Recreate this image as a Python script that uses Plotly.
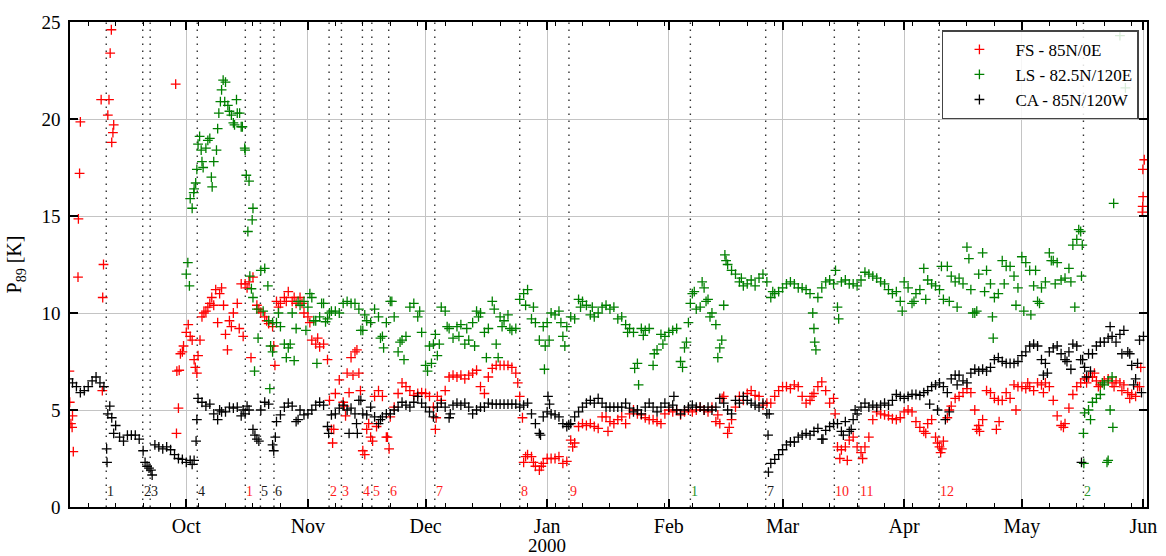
import numpy as np
import pandas as pd
import plotly.graph_objects as go

# Day 0 of every daily list is 1 September 1999
START = pd.Timestamp("1999-09-01")

# --- CA - 85N/120W, one value per day (day 0 .. 274) ---
ca_daily = [
    6.6, 6.4, 6.2, 5.9, 6.0, 6.2, 6.5, 6.7, 6.4, 6.2,
    4.8, 4.6, 4.2, 3.6, 3.4, 3.7, 3.7, 3.7, 3.5, 2.9,
    2.1, 1.9, 3.2, 3.1, 3.0, 3.1, 2.95, 2.7, 2.5, 2.45,
    2.3, 2.4, 2.4, 5.6, 5.4, 5.2, 5.3, 4.8, 4.5, 4.9,
    4.9, 5.15, 5.1, 5.15, 4.7, 4.8, 5.0, 4.0, 3.5, 5.0,
    5.4, 5.3, 3.2, 4.4, 4.75, 5.15, 5.35, 5.2, 4.4, 5.0,
    4.75, 4.8, 5.0, 5.25, 5.4, 5.25, 4.15, 4.75, 4.8, 5.1,
    5.25, 5.0, 5.1, 4.8, 5.5, 4.8, 4.75, 5.15, 4.65, 4.3,
    4.65, 4.8, 4.8, 5.0, 5.15, 5.4, 5.25, 5.15, 5.4, 5.7,
    5.35, 5.15, 4.9, 4.65, 5.15, 5.35, 5.15, 4.6, 5.25, 5.35,
    5.25, 5.35, 5.15, 4.8, 5.0, 5.15, 5.15, 5.35, 5.3, 5.3,
    5.3, 5.3, 5.3, 5.3, 5.3, 5.15, 5.25, 5.35, 4.8, 4.3,
    3.8, 4.65, 4.9, 4.8, 4.75, 4.65, 4.3, 4.15, 4.3, 4.65,
    4.9, 5.15, 5.35, 5.5, 5.35, 5.6, 5.35, 5.15, 5.15, 5.15,
    5.15, 5.15, 5.35, 5.1, 4.9, 5.0, 4.8, 5.15, 5.35, 5.15,
    4.9, 5.15, 5.35, 5.15, 5.25, 5.0, 4.8, 5.0, 5.15, 5.25,
    5.15, 5.15, 5.0, 5.15, 5.0, 5.15, 5.6, 5.35, 5.0, 4.8,
    5.5, 5.35, 5.7, 5.5, 5.35, 5.25, 5.15, 5.35, 4.8, 2.25,
    2.45, 2.7, 2.95, 3.2, 3.35, 3.35, 3.6, 3.7, 3.8, 3.7,
    3.9, 4.05, 3.5, 3.95, 4.15, 4.3, 4.3, 3.9, 4.4, 3.9,
    4.5, 4.8, 5.15, 5.35, 5.15, 5.25, 5.15, 5.25, 5.35, 5.25,
    5.5, 5.8, 5.7, 5.6, 5.7, 5.8, 5.8, 5.75, 5.9, 6.0,
    6.2, 6.3, 6.4, 6.2, 5.9, 6.6, 6.8, 6.8, 6.5, 6.4,
    6.9, 7.1, 7.0, 7.1, 7.0, 7.2, 7.6, 7.7, 7.5, 7.4,
    7.4, 7.4, 7.5, 7.8, 8.0, 8.3, 8.4, 8.3, 7.6, 7.4,
    8.0, 8.2, 8.3, 7.9, 7.6, 8.0, 8.4, 8.3, 7.6, 7.2,
    7.9, 7.9, 8.3, 8.5, 8.5, 8.7, 8.8, 8.5, 8.9, 9.1,
    8.0, 7.3, 6.6, 8.6, 8.8,
]

# --- FS - 85N/0E, daily values from day 30 (1 Oct) to day 273 ---
fs_daily_from_oct = [
    9.0, 8.8, 7.6, 7.8, 9.8, 10.1, 10.5, 10.4, 9.5, 11.3,
    8.9, 9.6, 10.0, 10.5, 11.5, 11.5, 11.6, 11.85, 10.4, 10.05,
    9.8, 9.45, 9.3, 10.6, 10.5, 10.8, 11.1, 10.6, 10.5, 10.8,
    10.0, 9.8, 8.6, 8.4, 8.25, 8.4, 7.6, 4.0, 5.85, 6.55,
    5.4, 6.9, 7.7, 8.0, 6.9, 2.9, 4.0, 3.6, 5.7, 6.0,
    5.7, 3.6, 4.65, 5.15, 5.85, 6.4, 6.2, 6.0, 5.75, 5.85,
    5.9, 5.85, 5.7, 5.15, 5.7, 5.5, 6.0, 6.7, 6.8, 6.7,
    6.8, 6.6, 6.8, 6.9, 7.05, 6.2, 5.85, 6.7, 7.15, 7.3,
    7.3, 7.3, 7.3, 7.2, 6.9, 5.7, 2.3, 2.7, 2.6, 2.1,
    1.9, 2.25, 2.5, 2.5, 2.5, 2.6, 2.25, 2.35, 3.45, 3.3,
    4.15, 4.3, 4.2, 4.3, 4.15, 4.05, 4.65, 4.65, 4.4, 4.3,
    4.5, 4.65, 4.3, 4.8, 5.0, 4.8, 4.75, 4.6, 4.5, 4.5,
    4.4, 4.3, 4.8, 5.0, 4.9, 5.0, 4.75, 4.9, 5.0, 4.9,
    5.0, 5.15, 5.0, 4.9, 5.15, 4.4, 4.3, 5.7, 3.8, 4.5,
    5.15, 5.7, 5.5, 5.85, 6.0, 5.75, 5.7, 5.25, 5.35, 5.35,
    5.7, 6.0, 6.2, 6.2, 6.1, 6.3, 6.2, 5.7, 5.35, 5.5,
    5.85, 6.2, 6.45, 6.0, 5.35, 5.6, 3.1, 2.95, 3.1, 3.45,
    3.6, 3.1, 2.8, 3.1, 3.6, 4.5, 4.9, 4.8, 4.75, 4.7,
    4.55, 4.5, 4.6, 4.9, 5.0, 4.9, 4.4, 4.1, 3.9, 4.3,
    4.5, 3.6, 3.1, 3.4, 4.6, 5.2, 5.6, 5.7, 5.9, 6.1,
    5.9, 5.0, 4.2, 4.5, 6.0, 5.9, 5.6, 5.5, 5.5, 5.9,
    5.6, 6.3, 6.2, 6.2, 6.1, 6.2, 6.0, 6.4, 6.3, 6.4,
    6.2, 5.5, 4.7, 4.2, 4.3, 5.1, 5.8, 6.2, 6.4, 6.6,
    6.7, 6.7, 6.5, 6.3, 6.5, 6.6, 6.4, 6.5, 6.4, 6.3,
    5.9, 5.8, 5.7, 6.2,
]

# --- LS - 82.5N/120E, daily values from day 30 (1 Oct) to day 266 ---
ls_daily_from_oct = [
    12.0, 15.9, 16.4, 18.7, 17.8, 18.5, 19.0, 17.8, 19.5, 21.5,
    21.9, 20.4, 19.8, 20.3, 19.6, 18.4, 16.8, 15.4, 10.2, 12.2,
    12.3, 9.6, 9.5, 9.5, 9.3, 8.4, 8.2, 10.0, 9.2, 10.4,
    10.6, 10.3, 10.8, 9.6, 9.8, 10.5, 9.7, 10.1, 10.1, 10.0,
    10.5, 10.6, 10.5, 10.5, 10.2, 9.1, 9.6, 9.5, 10.2, 9.8,
    8.8, 9.5, 10.6, 9.8, 8.0, 8.6, 8.8, 10.3, 10.5, 9.8,
    9.0, 7.3, 8.3, 8.4, 7.8, 10.3, 10.1, 9.2, 8.7, 9.3,
    9.4, 8.4, 8.6, 9.5, 10.1, 10.0, 9.0, 9.2, 10.6, 8.4,
    9.8, 9.6, 9.9, 9.1, 9.2, 10.7, 11.0, 11.2, 9.7, 9.5,
    8.6, 9.3, 9.5, 10.0, 9.9, 10.1, 8.8, 9.3, 9.8, 9.7,
    10.7, 10.6, 10.4, 9.9, 9.8, 10.0, 10.3, 10.4, 10.2, 10.3,
    9.7, 9.8, 9.4, 9.2, 9.0, 7.4, 9.2, 9.1, 9.2, 7.3,
    8.1, 8.9, 8.8, 9.0, 9.1, 9.2, 7.5, 8.2, 9.5, 11.0,
    10.2, 10.3, 11.3, 10.7, 10.0, 9.4, 8.2, 10.4, 12.5, 12.2,
    12.0, 11.6, 11.4, 11.5, 11.7, 11.4, 11.8, 12.0, 11.6, 10.8,
    11.0, 11.1, 11.3, 11.5, 11.6, 11.5, 11.3, 11.3, 11.2, 11.0,
    9.2, 10.8, 11.3, 11.6, 11.7, 11.5, 10.3, 11.6, 11.7, 11.5,
    11.5, 11.4, 11.7, 12.1, 12.0, 11.9, 11.8, 11.6, 11.5, 11.2,
    11.0, 11.1, 10.6, 11.6, 11.3, 10.5, 11.0, 11.2, 12.3, 11.7,
    11.5, 11.4, 11.2, 10.7, 12.4, 11.9, 11.6, 11.8, 11.5, 13.4,
    11.2, 10.0, 12.0, 13.1, 12.2, 11.5, 10.8, 11.0, 12.7, 12.4,
    12.4, 11.9, 11.3, 12.9, 12.6, 12.2, 11.4, 10.6, 11.3, 11.6,
    13.1, 12.7, 12.6, 11.7, 11.8, 12.3, 13.5, 13.8, 14.2, 4.85,
    5.0, 5.4, 5.6, 5.8, 6.3, 6.5, 6.7,
]

# --- extra observations within a day (day offset, value) ---
fs_extra_day = [
    0.2, 0.3, 0.6, 0.9, 1.2, 1.0, 2.4, 2.5, 2.8, 3.0, 8.3, 8.6, 8.7, 8.9,
    10.0, 10.3, 10.6, 10.9, 11.0, 11.3, 11.5, 27.3, 27.5, 27.6, 28.0, 28.2,
    28.5, 29.0, 29.3,
    30.5, 31.5, 32.3, 32.7, 33.5, 34.5, 35.5, 36.5, 37.5, 38.5, 39.5, 40.5,
    41.5, 43.5, 44.5, 45.5, 46.5, 48.5, 50.5, 52.3, 52.6, 53.5, 55.5, 57.5,
    59.5, 61.5, 63.5, 66.5, 67.3, 67.6, 70.3, 70.6, 71.5, 72.5, 73.5, 74.4,
    75.5, 76.5, 77.5, 78.5, 81.3, 81.7, 93.5, 93.7, 114.5, 115.7, 116.5,
    118.5, 120.5, 128.5, 137.5, 165.5, 166.6, 168.4, 189.5, 195.4, 196.6,
    198.5, 202.4, 218.5, 221.5, 222.3, 222.6, 224.5, 231.5, 232.2, 236.5,
    237.2, 241.5, 244.5, 248.5, 253.6, 259.5, 261.5, 262.5, 266.5, 268.5,
    270.5, 272.5, 273.3, 273.7, 273.8, 273.9, 273.85, 274.2,
]
fs_extra_val = [
    7.0, 5.4, 4.3, 4.1, 2.85, 4.7, 11.85, 14.85, 17.2, 19.85, 21.0, 6.0, 10.8, 12.5,
    20.2, 21.0, 23.4, 24.6, 18.8, 19.3, 19.7, 21.8, 3.8, 7.0, 5.1, 7.05,
    7.9, 8.0, 8.3,
    9.4, 8.6, 7.2, 6.9, 8.6, 10.0, 10.3, 10.8, 11.2, 11.0, 10.4, 8.1,
    9.3, 9.2, 8.8, 11.3, 7.7, 10.2, 9.6, 8.3, 7.3, 10.3, 10.6, 10.8,
    10.5, 9.5, 8.7, 5.5, 3.3, 4.0, 5.2, 4.7, 5.9, 6.8, 8.1, 6.0,
    2.7, 4.3, 3.4, 4.15, 3.6, 3.0, 4.0, 4.6, 6.4, 4.6, 2.6,
    2.3, 2.1, 3.1, 3.9, 4.75, 5.6, 4.1, 5.7, 4.8, 2.5,
    2.4, 2.5, 3.8, 3.3, 2.8, 3.0, 5.0, 4.0, 3.9, 4.0,
    4.4, 5.0, 6.4, 5.9, 4.1, 6.4, 6.9, 6.2, 6.2, 6.0,
    5.6, 6.2, 7.2, 15.2, 15.5, 16.0, 17.4, 17.9,
]

ls_extra_day = [
    30.4, 30.8, 31.5, 31.9, 32.4, 32.7, 33.4, 33.8, 34.3, 35.5, 36.4, 36.6,
    37.7, 38.3, 38.7, 39.4, 39.8, 40.6, 41.5, 42.3, 42.8, 43.6, 44.3, 44.9,
    45.3, 45.7, 46.2, 46.6, 46.8, 47.0, 47.4, 48.3, 49.6, 50.8, 51.3, 51.5,
    52.0, 53.5, 55.5, 56.5, 57.5, 58.5, 60.5, 61.5, 62.5, 63.3, 64.5, 65.5,
    66.5, 74.5, 75.5, 79.5, 80.3, 82.4, 84.5, 85.5, 89.5, 91.5, 92.5, 93.5,
    94.5, 96.5, 99.5, 101.5, 103.5, 104.5, 106.5, 108.5, 109.5, 110.5,
    112.5, 116.5, 118.5, 121.3, 121.5, 122.5, 125.5, 126.5, 130.5, 133.5,
    142.5, 144.3, 145.3, 146.5, 149.3, 151.5, 156.5, 157.5, 158.5, 159.5,
    161.5, 162.5, 163.5, 165.5, 166.5, 167.3, 167.6, 171.5, 179.5, 189.7,
    190.2, 190.5, 195.5, 196.3, 212.5, 215.5, 218.5, 222.5, 224.5, 226.5,
    229.5, 230.5, 231.5, 233.5, 235.5, 235.7, 238.5, 241.5, 243.5, 245.3,
    246.5, 247.5, 250.5, 251.5, 255.5, 256.5, 257.5, 258.2, 258.4, 258.7,
    258.8, 260.5, 263.5, 264.7, 265.0, 265.5, 266.2, 266.4, 268.0, 269.4,
]
ls_extra_val = [
    12.6, 11.4, 15.4, 16.2, 16.7, 17.4, 19.1, 18.4, 17.5, 18.9, 17.0, 16.5,
    18.4, 20.3, 20.9, 22.0, 20.9, 20.7, 20.2, 19.7, 21.0, 20.3, 19.6, 18.5,
    17.1, 14.2, 11.9, 11.25, 14.8, 10.8, 7.0, 8.7, 10.1, 11.4, 6.1, 8.3,
    8.0, 10.0, 7.7, 8.4, 7.55, 10.6, 9.1, 11.0, 9.6, 7.4, 10.5, 9.55,
    10.0, 9.1, 9.9, 8.7, 8.2, 10.6, 8.5, 7.6, 10.1, 7.0, 7.4, 8.9,
    8.4, 9.3, 8.8, 9.2, 8.3, 9.8, 7.7, 10.2, 7.7, 9.3,
    9.2, 10.4, 10.3, 7.1, 8.3, 8.6, 9.5, 8.3, 10.3, 10.3,
    9.0, 7.15, 6.3, 8.85, 7.9, 8.4, 7.2, 8.5, 10.5, 11.1,
    11.6, 10.6, 9.8, 7.7, 8.6, 13.0, 12.7, 11.8, 11.1, 10.0,
    8.5, 8.1, 12.2, 9.7, 10.1, 10.6, 10.7, 12.4, 10.6, 10.3,
    12.8, 10.0, 10.1, 11.1, 9.8, 8.7, 11.5, 10.4, 10.1, 9.9,
    12.2, 10.5, 12.7, 11.5, 11.6, 10.3, 14.3, 11.9, 13.5, 3.8,
    2.25, 4.5, 6.4, 2.3, 2.4, 5.0, 4.1, 15.65, 24.3, 21.6,
]

ca_extra_day = [
    9.7, 9.8, 10.5, 11.5, 19.5, 20.5, 21.3, 31.5, 32.5, 32.7, 38.5, 44.5,
    45.5, 47.5, 48.5, 52.3, 52.7, 58.5, 66.3, 71.5, 73.4, 73.6, 74.5, 79.5,
    97.3, 120.3, 122.2, 122.6, 127.5, 154.3, 178.3, 178.4, 178.6, 192.3,
    197.5, 199.5, 200.5, 219.5, 221.5, 223.5, 224.5, 226.5, 248.5, 249.5,
    254.5, 255.5, 258.2, 258.5, 259.5, 260.5, 265.5, 268.5, 270.5, 271.5,
    272.5, 273.5,
]
ca_extra_val = [
    3.0, 2.3, 5.2, 3.8, 2.3, 2.0, 1.65, 2.2, 3.4, 4.5, 5.0, 5.0,
    5.2, 3.7, 3.4, 2.9, 3.6, 4.5, 3.8, 3.8, 4.3, 3.8, 5.5, 4.5,
    4.8, 3.7, 5.7, 5.3, 4.25, 5.7, 3.7, 1.8, 4.8, 3.5,
    3.7, 4.0, 5.0, 5.3, 5.0, 4.5, 4.9, 6.3, 6.8, 6.9,
    7.5, 7.1, 2.3, 7.6, 6.7, 7.0, 9.3, 7.9, 7.9, 6.3,
    7.4, 5.9,
]

# --- numbered events: day offset, label, station it belongs to ---
event_day = [9.6, 18.9, 20.8, 32.8, 45.05, 48.9, 52.35, 66.4, 69.55, 74.9,
             77.3, 81.6, 93.35, 115.0, 127.55, 158.5, 177.7, 195.2, 201.45,
             221.85, 258.7]
event_label = ["1", "2", "3", "4", "1", "5", "6", "2", "3", "4",
               "5", "6", "7", "8", "9", "1", "7", "10", "11",
               "12", "2"]
event_station = ["CA", "CA", "CA", "CA", "FS", "CA", "CA", "FS", "FS", "FS",
                 "FS", "FS", "FS", "FS", "FS", "LS", "CA", "FS", "FS",
                 "FS", "LS"]

month_ticks = ["1999-10-01", "1999-11-01", "1999-12-01", "2000-01-01",
               "2000-02-01", "2000-03-01", "2000-04-01", "2000-05-01",
               "2000-06-01"]
month_labels = ["Oct", "Nov", "Dec", "Jan", "Feb", "Mar", "Apr", "May", "Jun"]
year_label = "2000"
year_start = "2000-01-01"

y_ticks = [0, 5, 10, 15, 20, 25]

FONT = "Liberation Serif"
station_color = {"FS": "#ff0000", "LS": "#008000", "CA": "#000000"}
label_color = {"FS": "#ff1a1a", "LS": "#2a962a", "CA": "#1a1a1a"}


def to_dates(days):
    return START + pd.to_timedelta(np.asarray(days, dtype=float), unit="D")


def station_points(daily, first_day, extra_day, extra_val):
    days = [first_day + k for k, v in enumerate(daily) if v is not None]
    vals = [v for v in daily if v is not None]
    days = days + list(extra_day)
    vals = vals + list(extra_val)
    return to_dates(days), vals


fig = go.Figure()

series = [
    ("FS - 85N/0E", "FS", fs_daily_from_oct, 30, fs_extra_day, fs_extra_val),
    ("LS - 82.5N/120E", "LS", ls_daily_from_oct, 30, ls_extra_day, ls_extra_val),
    ("CA - 85N/120W", "CA", ca_daily, 0, ca_extra_day, ca_extra_val),
]
for name, key, daily, first, ed, ev in series:
    xs, ys = station_points(daily, first, ed, ev)
    c = station_color[key]
    fig.add_trace(go.Scatter(
        x=xs, y=ys, mode="markers", name=name,
        marker=dict(symbol="cross-thin", size=7, color=c,
                    line=dict(width=1.3, color=c)),
    ))

# dotted event markers with their numbers near the bottom
for d, lab, st in zip(event_day, event_label, event_station):
    xd = to_dates([d])[0]
    fig.add_shape(type="line", xref="x", yref="y", x0=xd, x1=xd, y0=0, y1=25,
                  line=dict(color="#333333", width=1.4, dash="1.4px,5.6px"),
                  layer="below")
    fig.add_annotation(x=xd, y=0.82, xref="x", yref="y", text=lab,
                       showarrow=False, xanchor="left", yanchor="middle",
                       xshift=0, borderpad=0,
                       font=dict(family=FONT, size=14,
                                 color=label_color[st]))

# year written under the January tick
fig.add_annotation(x=year_start, y=-0.0804, xref="x", yref="paper",
                   text=year_label, showarrow=False, xanchor="center",
                   yanchor="middle", font=dict(family=FONT, size=19))

fig.update_layout(
    width=1166, height=556,
    margin=dict(l=70, r=19, t=22, b=49, autoexpand=False),
    plot_bgcolor="white", paper_bgcolor="white",
    font=dict(family=FONT, size=19, color="black"),
    showlegend=True,
    legend=dict(
        x=0.9925, y=0.983, xanchor="right", yanchor="top",
        bgcolor="rgba(255,255,255,0.85)", bordercolor="#444444",
        borderwidth=1.5, font=dict(family=FONT, size=17),
        itemwidth=62, tracegroupgap=0,
    ),
)

fig.update_xaxes(
    type="date", automargin=False,
    range=[to_dates([0.36])[0], to_dates([274.9])[0]],
    tickmode="array", tickvals=month_ticks, ticktext=month_labels,
    ticks="inside", ticklen=8, tickwidth=1.5, tickcolor="black",
    showline=True, linecolor="black", linewidth=1.5, mirror="ticks",
    showgrid=True, gridcolor="#c4c4c4", gridwidth=1, zeroline=False,
    tickfont=dict(family=FONT, size=20), ticklabelstandoff=0,
    minor=dict(ticks="inside", ticklen=4, tickwidth=1, tickcolor="black",
               tickmode="linear", tick0="1999-09-06", dtick=7 * 86400000,
               showgrid=False),
)
fig.update_yaxes(
    automargin=False,
    range=[0, 25], tickmode="array", tickvals=y_ticks,
    ticks="inside", ticklen=8, tickwidth=1.5, tickcolor="black",
    showline=True, linecolor="black", linewidth=1.5, mirror="ticks",
    showgrid=True, gridcolor="#c4c4c4", gridwidth=1, zeroline=False,
    tickfont=dict(family=FONT, size=19), ticklabelstandoff=4,
    title=dict(text="P<sub>89</sub> [K]", font=dict(family=FONT, size=20),
               standoff=14),
)

fig.write_html("out.html")
